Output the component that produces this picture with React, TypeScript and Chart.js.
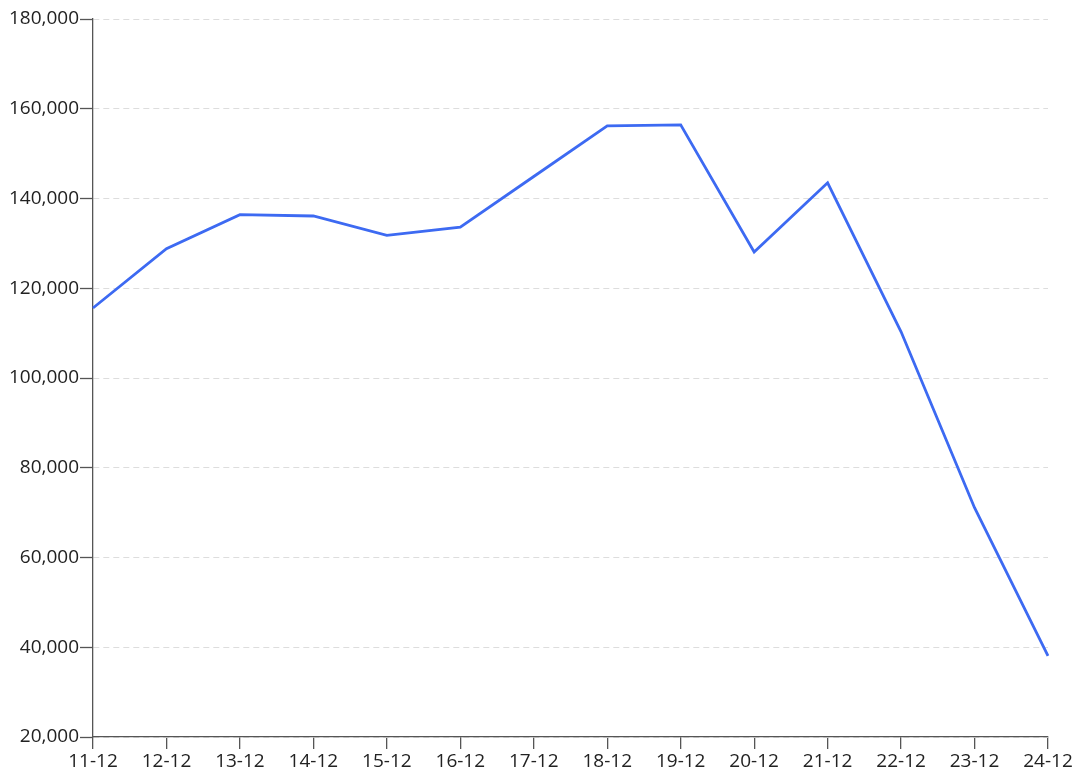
import React, { useEffect, useRef } from "react";
import { Chart, registerables } from "chart.js";

Chart.register(...registerables);

const categories = ["11-12", "12-12", "13-12", "14-12", "15-12", "16-12", "17-12", "18-12", "19-12", "20-12", "21-12", "22-12", "23-12", "24-12"];
const values = [115600, 128800, 136400, 136100, 131800, 133600, 144900, 156200, 156400, 128100, 143500, 110300, 71100, 38100];
const yMin = 20000;
const yMax = 180000;
const yStep = 20000;

export default function App() {
  const ref = useRef<HTMLCanvasElement | null>(null);
  useEffect(() => {
    if (!ref.current) return;
    const font = { family: "'Open Sans', 'Noto Sans', sans-serif", size: 19 };
    const chart = new Chart(ref.current, {
      type: "line",
      data: {
        labels: categories,
        datasets: [
          {
            data: values,
            borderColor: "#3d6af2",
            borderWidth: 2.8,
            pointRadius: 0,
            tension: 0,
            fill: false,
          },
        ],
      },
      options: {
        animation: false,
        responsive: false,
        maintainAspectRatio: false,
        layout: { padding: { top: 19, right: 32, left: 0, bottom: 0 } },
        plugins: { legend: { display: false }, tooltip: { enabled: false } },
        scales: {
          x: {
            offset: false,
            grid: { display: true, drawOnChartArea: false, color: "#555", tickLength: 12, tickColor: "#555", lineWidth: 1.3 },
            border: { display: true, color: "#555", width: 1.3 },
            ticks: { color: "#222", font, padding: 1, maxRotation: 0, autoSkip: false },
            afterFit: (s: any) => { s.height = 40; },
          },
          y: {
            min: yMin,
            max: yMax,
            grid: { color: "#dddddd", tickColor: "#555", tickLength: 13, tickBorderDash: [] as number[], tickWidth: 1.3 },
            border: { display: true, color: "#555", width: 1.3, dash: [6, 4] },
            ticks: {
              stepSize: yStep,
              color: "#222",
              font,
              padding: 1,
              callback: (v: any) => Number(v).toLocaleString("en-US"),
            },
            afterFit: (s: any) => { s.width = 93; },
          },
        },
      },
    });
    return () => chart.destroy();
  }, []);
  return (
    <div style={{ position: "absolute", left: 0, top: 0, width: 1080, height: 777, background: "#fff" }}>
      <canvas ref={ref} width={1080} height={777} style={{ display: "block" }} />
    </div>
  );
}
